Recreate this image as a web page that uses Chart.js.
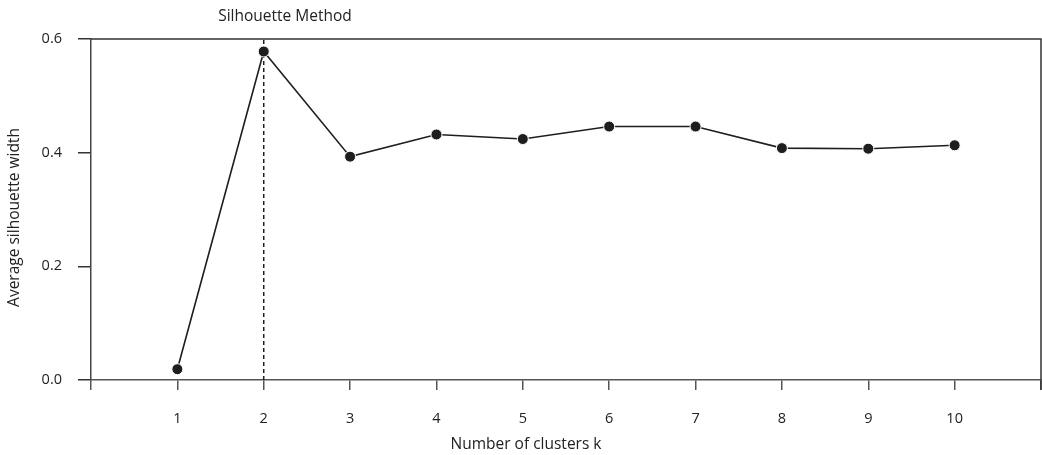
<!DOCTYPE html>
<html>
<head>
<meta charset="utf-8">
<script src="https://cdn.jsdelivr.net/npm/chart.js@4/dist/chart.umd.min.js"></script>
<style>
  html, body { margin: 0; padding: 0; background: #fff; overflow: hidden; }
  #wrap { width: 1042px; height: 455px; position: relative; }
</style>
</head>
<body>
<div id="wrap"><canvas id="silChart"></canvas></div>
<script>

// number of clusters and the average silhouette width for each
const clusters = [1, 2, 3, 4, 5, 6, 7, 8, 9, 10];
const silWidth = [0.019, 0.578, 0.393, 0.432, 0.424, 0.446, 0.446, 0.408, 0.407, 0.413];
const optimalK = 2;
const yTicks = [0.0, 0.2, 0.4, 0.6];

const titleText = "Silhouette Method";
const xTitle = "Number of clusters k";
const yTitle = "Average silhouette width";

const FONT = "'Open Sans', 'Noto Sans', sans-serif";
const INK = "#1e1e1e";
const AXIS = "#555";

let points = clusters.map((k, i) => ({ x: k, y: silWidth[i] }));
let optLine = [{ x: optimalK, y: yTicks[0] }, { x: optimalK, y: yTicks[yTicks.length - 1] }];

// top/right frame lines, the main title and both axis titles
const framePlugin = {
  id: "frame",
  afterDraw(chart){
    const ctx = chart.ctx;
    const a = chart.chartArea;
    ctx.save();
    ctx.strokeStyle = "#333";
    ctx.lineWidth = 1.5;
    ctx.beginPath();
    ctx.moveTo(a.left, a.top);
    ctx.lineTo(a.right, a.top);
    ctx.lineTo(a.right, a.bottom + 10);
    ctx.stroke();

    ctx.fillStyle = "#222";
    ctx.textAlign = "center";
    ctx.textBaseline = "middle";
    ctx.font = "15.5px " + FONT;
    ctx.fillText(titleText, a.left + 194, 17);
    ctx.font = "15.5px " + FONT;
    ctx.fillText(xTitle, a.left + 435, 445);

    ctx.translate(15, (a.top + a.bottom) / 2 + 8);
    ctx.rotate(-Math.PI / 2);
    ctx.font = "15.5px " + FONT;
    ctx.fillText(yTitle, 0, 0);
    ctx.restore();
  }
};

new Chart(document.getElementById("silChart"), {
  type: "scatter",
  data: {
    datasets: [
      {
        label: "silhouette",
        data: points,
        showLine: true,
        borderColor: INK,
        borderWidth: 1.6,
        pointRadius: 5.5,
        pointBackgroundColor: INK,
        pointBorderColor: "#fff",
        pointBorderWidth: 1,
        order: 1
      },
      {
        label: "optimal k",
        data: optLine,
        showLine: true,
        borderColor: INK,
        borderWidth: 1.5,
        borderDash: [4, 3],
        pointRadius: 0,
        order: 2
      }
    ]
  },
  options: {
    responsive: true,
    maintainAspectRatio: false,
    animation: false,
    layout: { autoPadding: false, padding: { top: 39, right: 1, bottom: 0, left: 0 } },
    plugins: {
      legend: { display: false },
      tooltip: { enabled: false }
    },
    scales: {
      x: {
        type: "linear",
        min: 0,
        max: 11,
        afterFit(scale){
          scale.height = 75;
          scale.paddingLeft = 0;
          scale.paddingRight = 0;
        },
        ticks: {
          stepSize: 1,
          autoSkip: false,
          maxRotation: 0,
          padding: 20,
          color: "#222",
          font: { family: FONT, size: 14.5 },
          callback: v => (v >= 1 && v <= 10) ? String(v) : ""
        },
        grid: { drawOnChartArea: false, tickLength: 10, color: AXIS, lineWidth: 1.5 },
        border: { color: AXIS, width: 1.5 }
      },
      y: {
        type: "linear",
        min: 0,
        max: 0.6,
        afterFit(scale){ scale.width = 91; },
        afterBuildTicks(scale){ scale.ticks = yTicks.map(v => ({ value: v })); },
        ticks: {
          padding: 16,
          color: "#222",
          font: { family: FONT, size: 14.5 },
          callback: v => Number(v).toFixed(1)
        },
        grid: { drawOnChartArea: false, tickLength: 13, color: "#333", lineWidth: 1.5 },
        border: { color: "#444", width: 1.5 }
      }
    }
  },
  plugins: [framePlugin]
});

</script>
</body>
</html>
